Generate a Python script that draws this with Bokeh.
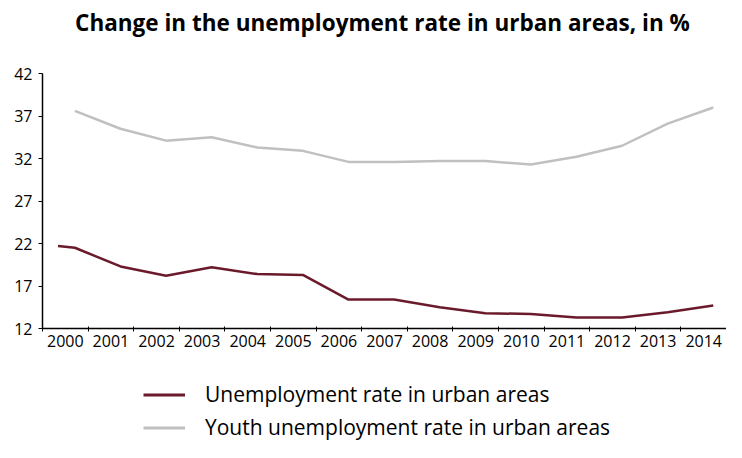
from bokeh.plotting import figure
from bokeh.models import Range1d, FixedTicker, Legend, LegendItem
from bokeh.core.properties import value
from bokeh.layouts import column
from bokeh.embed import file_html
from bokeh.resources import INLINE

# ---- data ----
years = list(range(2000, 2015))
urban = [21.5, 19.3, 18.2, 19.2, 18.4, 18.3, 15.4, 15.4, 14.5, 13.8, 13.7, 13.3, 13.3, 13.9, 14.7]
urban_start = 21.7          # first observation at the start of 2000
youth = [37.6, 35.5, 34.1, 34.5, 33.3, 32.9, 31.6, 31.6, 31.7, 31.7, 31.3, 32.2, 33.5, 36.1, 38.0]
y_ticks = [12, 17, 22, 27, 32, 37, 42]

title_text = "Change in the unemployment rate in urban areas, in %"
label_urban = "Unemployment rate in urban areas"
label_youth = "Youth unemployment rate in urban areas"

RED = "#6B1A2C"
GREY = "#C0C0C0"
FONT = "Open Sans"
W = 726

pos_off = 0.21
x_youth = [y + pos_off for y in years]
x_urban = [years[0] - 0.16] + x_youth
v_urban = [urban_start] + urban


def blank(height):
    f = figure(width=W, height=height, output_backend="svg", toolbar_location=None,
               x_range=Range1d(0, 1), y_range=Range1d(0, 1),
               x_axis_location=None, y_axis_location=None, min_border=0)
    f.outline_line_color = None
    f.xgrid.grid_line_color = None
    f.ygrid.grid_line_color = None
    return f


# ---- title strip ----
t = blank(44)
t.text(x=[0.497], y=[0.5], text=[title_text], text_align="center", text_baseline="middle",
       text_font=value(FONT), text_font_style="bold", text_font_size="22.5px", text_color="#000000")

# ---- chart ----
p = figure(width=W, height=314, output_backend="svg", toolbar_location=None,
           x_range=Range1d(years[0] - 0.5, years[-1] + 0.5),
           y_range=Range1d(y_ticks[0], y_ticks[-1]),
           min_border_left=42, min_border_right=0, min_border_top=29, min_border_bottom=30)
p.outline_line_color = None
p.xgrid.grid_line_color = None
p.ygrid.grid_line_color = None

p.line(x_urban, v_urban, line_color=RED, line_width=2.5)
p.line(x_youth, youth, line_color=GREY, line_width=2.5)

xa = p.xaxis[0]
xa.ticker = FixedTicker(ticks=years, minor_ticks=[y + 0.5 for y in [years[0] - 1] + years])
xa.major_tick_out = 0
xa.major_tick_in = 0
xa.minor_tick_out = 3
xa.minor_tick_in = 2
xa.minor_tick_line_color = "#000000"
xa.axis_line_color = "#000000"
xa.axis_line_width = 1.5
xa.major_label_text_font = FONT
xa.major_label_text_font_size = "16px"
xa.major_label_text_color = "#000000"
xa.major_label_standoff = 3

ya = p.yaxis[0]
ya.ticker = FixedTicker(ticks=y_ticks)
ya.minor_tick_line_color = None
ya.major_tick_out = 4
ya.major_tick_in = 0
ya.axis_line_color = "#000000"
ya.axis_line_width = 1.5
ya.major_label_text_font = FONT
ya.major_label_text_font_size = "16px"
ya.major_label_text_color = "#000000"
ya.major_label_standoff = 6

# ---- legend strip ----
q = blank(84)
# off-range stand-ins so that the legend has line glyphs to show
k1 = q.line([-3, -2], [-3, -2], line_color=RED, line_width=3)
k2 = q.line([-3, -2], [-3, -2], line_color=GREY, line_width=3)

legend = Legend(items=[LegendItem(label=label_urban, renderers=[k1]),
                       LegendItem(label=label_youth, renderers=[k2])],
                location=(101, 1), orientation="vertical",
                glyph_width=42, glyph_height=27, label_height=27, label_standoff=20,
                spacing=5, padding=0, margin=0,
                label_text_font=FONT, label_text_font_size="21px", label_text_color="#000000",
                border_line_alpha=0, background_fill_alpha=0)
q.add_layout(legend)

layout = column(t, p, q, spacing=0)
open("out.html", "w").write(file_html(layout, INLINE))
